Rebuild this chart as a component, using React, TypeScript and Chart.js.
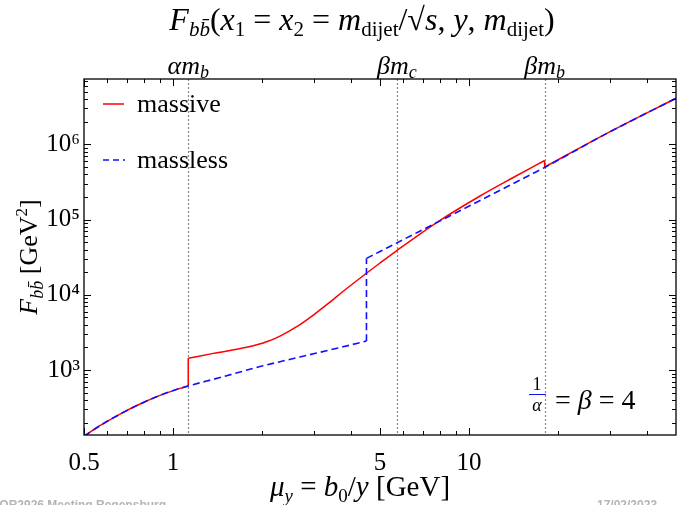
import React, { useEffect, useRef } from "react";
import { Chart, registerables } from "chart.js";
Chart.register(...registerables);

const FONT = '"Liberation Serif", "DejaVu Serif", serif';

// massive (red, solid)
const massiveX = [0.5, 0.566, 0.662, 0.773, 0.903, 1.055, 1.125, 1.125, 1.367, 1.772, 2.07, 2.297, 2.616, 2.977, 3.39, 3.86, 4.51, 5.0, 5.7, 7.77, 10.89, 14.1, 18.0, 18.0, 29.2, 50];
const massiveY = [132, 182, 260, 354, 461, 571, 615, 1432, 1667, 2004, 2377, 2830, 3767, 5386, 8020, 12130, 19500, 26500, 38800, 91400, 206000, 363000, 611000, 500000, 1400000, 4100000];

// massless (blue, dashed)
const masslessX = [0.5, 0.566, 0.662, 0.773, 0.903, 1.055, 1.125, 1.44, 1.966, 2.68, 3.66, 4.5, 4.5, 5.0, 5.7, 7.77, 10.89, 14.1, 18.0, 29.2, 50];
const masslessY = [132, 182, 260, 354, 461, 571, 615, 795, 1113, 1489, 1992, 2430, 30500, 37700, 49100, 91200, 179500, 302000, 494000, 1400000, 4100000];

const xTicks = [0.5, 1, 5, 10];
const yTicks = [1e3, 1e4, 1e5, 1e6];
const yTickLabels = ["10³", "10⁴", "10⁵", "10⁶"];
const xMinor = [0.6, 0.7, 0.8, 0.9, 2, 3, 4, 6, 7, 8, 9, 20, 30, 40];
const thresholds = [1.125, 5.7, 18.0];
const thresholdLabels = [["α", "m", "b"], ["β", "m", "c"], ["β", "m", "b"]];

type Seg = { t: string; s: number; it?: boolean; dy?: number };

function fontOf(sg: Seg) {
  return `${sg.it ? "italic " : ""}${sg.s}px ${FONT}`;
}
function richWidth(ctx: CanvasRenderingContext2D, segs: Seg[]) {
  let w = 0;
  for (const sg of segs) {
    ctx.font = fontOf(sg);
    w += ctx.measureText(sg.t).width;
  }
  return w;
}
function drawRich(ctx: CanvasRenderingContext2D, segs: Seg[], x: number, y: number, align: string) {
  const total = richWidth(ctx, segs);
  let cx = align === "center" ? x - total / 2 : align === "right" ? x - total : x;
  ctx.textAlign = "left";
  ctx.textBaseline = "alphabetic";
  for (const sg of segs) {
    ctx.font = fontOf(sg);
    ctx.fillText(sg.t, cx, y + (sg.dy || 0));
    cx += ctx.measureText(sg.t).width;
  }
}

// split a series into continuous pieces and the vertical jumps between them
function pieces(xs: number[], ys: number[]) {
  const curves: { x: number; y: number }[][] = [];
  const jumps: { x: number; y: number }[][] = [];
  let cur: { x: number; y: number }[] = [];
  xs.forEach((x, i) => {
    if (i > 0 && x === xs[i - 1]) {
      curves.push(cur);
      jumps.push([{ x: xs[i - 1], y: ys[i - 1] }, { x, y: ys[i] }]);
      cur = [];
    }
    cur.push({ x, y: ys[i] });
  });
  curves.push(cur);
  return curves.concat(jumps);
}

const decor = {
  id: "decor",
  beforeDatasetsDraw(chart: any) {
    const { ctx, chartArea: a, scales } = chart;
    const xs = scales.x;
    ctx.save();
    ctx.strokeStyle = "#888";
    ctx.lineWidth = 1.2;
    ctx.setLineDash([2, 2]);
    for (const t of thresholds) {
      const px = Math.round(xs.getPixelForValue(t)) + 0.5;
      ctx.beginPath();
      ctx.moveTo(px, a.top);
      ctx.lineTo(px, a.bottom);
      ctx.stroke();
    }
    ctx.restore();
  },
  afterDraw(chart: any) {
    const { ctx, chartArea: a, scales } = chart;
    const xs = scales.x;
    const ys = scales.y;
    ctx.save();
    ctx.strokeStyle = "#000";
    ctx.lineWidth = 1.3;
    ctx.setLineDash([]);
    ctx.strokeRect(a.left, a.top, a.right - a.left, a.bottom - a.top);
    ctx.lineWidth = 1;
    const tick = (x1: number, y1: number, x2: number, y2: number) => {
      ctx.beginPath();
      ctx.moveTo(x1, y1);
      ctx.lineTo(x2, y2);
      ctx.stroke();
    };
    for (const v of xTicks.concat(xMinor)) {
      const len = xTicks.includes(v) ? 7 : 4;
      const px = Math.round(xs.getPixelForValue(v)) + 0.5;
      tick(px, a.bottom, px, a.bottom - len);
      tick(px, a.top, px, a.top + len);
    }
    for (let e = 2; e <= 6; e++) {
      for (let m = 1; m <= 9; m++) {
        const v = m * Math.pow(10, e);
        if (v < ys.min || v > ys.max) continue;
        const len = m === 1 ? 7 : 4;
        const py = Math.round(ys.getPixelForValue(v)) + 0.5;
        tick(a.left, py, a.left + len, py);
        tick(a.right, py, a.right - len, py);
      }
    }
    ctx.fillStyle = "#000";
    thresholds.forEach((t, i) => {
      const px = xs.getPixelForValue(t);
      const [g, m, q] = thresholdLabels[i];
      drawRich(ctx, [
        { t: g, s: 26, it: true },
        { t: m, s: 26, it: true },
        { t: q, s: 18, it: true, dy: 4 },
      ], px, a.top - 5, "center");
    });
    // title
    const B = 32, S = 21, D = 6;
    drawRich(ctx, [
      { t: "F", s: B, it: true },
      { t: "bb\u0304", s: S, it: true, dy: D },
      { t: "(", s: B },
      { t: "x", s: B, it: true },
      { t: "1", s: S, dy: D },
      { t: " = ", s: B },
      { t: "x", s: B, it: true },
      { t: "2", s: S, dy: D },
      { t: " = ", s: B },
      { t: "m", s: B, it: true },
      { t: "dijet", s: S, dy: D },
      { t: "/√", s: B },
      { t: "s", s: B, it: true },
      { t: ", ", s: B },
      { t: "y", s: B, it: true },
      { t: ", ", s: B },
      { t: "m", s: B, it: true },
      { t: "dijet", s: S, dy: D },
      { t: ")", s: B },
    ], 362, 30, "center");
    // x-axis title
    drawRich(ctx, [
      { t: "μ", s: 29, it: true },
      { t: "y", s: 19, it: true, dy: 6 },
      { t: " = ", s: 29 },
      { t: "b", s: 29, it: true },
      { t: "0", s: 19, dy: 6 },
      { t: "/", s: 29 },
      { t: "y", s: 29, it: true },
      { t: " [GeV]", s: 29 },
    ], 360, 496, "center");
    // y-axis title
    ctx.save();
    ctx.translate(37, 257);
    ctx.rotate(-Math.PI / 2);
    drawRich(ctx, [
      { t: "F", s: 26, it: true },
      { t: "bb\u0304", s: 18, it: true, dy: 6 },
      { t: " [GeV", s: 26 },
      { t: "2", s: 17, dy: -10 },
      { t: "]", s: 26 },
    ], 0, 0, "center");
    ctx.restore();
    // legend
    ctx.lineWidth = 1.5;
    ctx.strokeStyle = "#ff0000";
    ctx.setLineDash([]);
    tick(103, 104, 124, 104);
    ctx.strokeStyle = "#1010ff";
    ctx.setLineDash([6, 4]);
    tick(103, 160, 125, 160);
    ctx.setLineDash([]);
    ctx.fillStyle = "#000";
    drawRich(ctx, [{ t: "massive", s: 26 }], 137, 112, "left");
    drawRich(ctx, [{ t: "massless", s: 26 }], 137, 168, "left");
    // annotation 1/α = β = 4
    drawRich(ctx, [{ t: "1", s: 18 }], 537, 390, "center");
    ctx.lineWidth = 1;
    tick(529, 394.5, 546, 394.5);
    drawRich(ctx, [{ t: "α", s: 18, it: true }], 537, 411, "center");
    drawRich(ctx, [
      { t: " = ", s: 28 },
      { t: "β", s: 28, it: true },
      { t: " = 4", s: 28 },
    ], 548, 409, "left");
    // footer
    ctx.fillStyle = "#b4b4b4";
    ctx.font = 'bold 12px "Liberation Sans", "DejaVu Sans", sans-serif';
    ctx.textAlign = "left";
    ctx.textBaseline = "alphabetic";
    ctx.fillText("FOR2926 Meeting Regensburg", -8, 509);
    ctx.fillText("17/02/2023", 597, 509);
    ctx.restore();
  },
};

export default function App() {
  const ref = useRef<HTMLCanvasElement | null>(null);
  useEffect(() => {
    if (!ref.current) return;
    const redStyle = {
      showLine: true,
      borderColor: "#ff0000",
      borderWidth: 1.5,
      pointRadius: 0,
      cubicInterpolationMode: "monotone" as const,
      order: 2,
    };
    const blueStyle = {
      showLine: true,
      borderColor: "#1010ff",
      borderWidth: 1.6,
      borderDash: [7, 4],
      pointRadius: 0,
      cubicInterpolationMode: "monotone" as const,
      order: 1,
    };
    const datasets: any[] = [];
    pieces(massiveX, massiveY).forEach((d) => datasets.push({ label: "massive", data: d, ...redStyle }));
    pieces(masslessX, masslessY).forEach((d) => datasets.push({ label: "massless", data: d, ...blueStyle }));
    const chart = new Chart(ref.current, {
      type: "scatter",
      data: { datasets },
      plugins: [decor],
      options: {
        animation: false,
        responsive: false,
        maintainAspectRatio: false,
        layout: { padding: { top: 79, right: 2, left: 0, bottom: 0 } },
        plugins: { legend: { display: false }, title: { display: false }, tooltip: { enabled: false } },
        scales: {
          x: {
            type: "logarithmic",
            min: 0.5,
            max: 50,
            position: "bottom",
            grid: { display: true, drawOnChartArea: false, drawTicks: false },
            border: { display: false },
            afterBuildTicks: (s: any) => {
              s.ticks = xTicks.map((v) => ({ value: v }));
            },
            afterFit: (s: any) => {
              s.height = 70;
            },
            ticks: {
              autoSkip: false,
              maxRotation: 0,
              padding: 13,
              color: "#000",
              font: { family: FONT, size: 25 },
              callback: (v: any) => String(v),
            },
          },
          y: {
            type: "logarithmic",
            min: 137,
            max: 7.4e6,
            position: "left",
            grid: { display: true, drawOnChartArea: false, drawTicks: false },
            border: { display: false },
            afterBuildTicks: (s: any) => {
              s.ticks = yTicks.map((v) => ({ value: v }));
            },
            afterFit: (s: any) => {
              s.width = 84;
            },
            ticks: {
              autoSkip: false,
              padding: 4,
              color: "#000",
              font: { family: FONT, size: 25 },
              callback: (v: any) => {
                const i = yTicks.indexOf(Number(v));
                return i >= 0 ? yTickLabels[i] : "";
              },
            },
          },
        },
      },
    });
    return () => chart.destroy();
  }, []);
  return (
    <div style={{ position: "absolute", left: 0, top: 0, width: 678, height: 505 }}>
      <canvas ref={ref} width={678} height={505} style={{ width: 678, height: 505 }} />
    </div>
  );
}
